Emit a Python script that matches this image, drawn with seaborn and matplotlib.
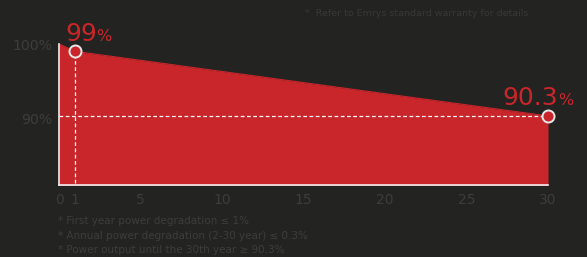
import matplotlib
matplotlib.use("Agg")
import matplotlib.pyplot as plt
import seaborn as sns
import pandas as pd

years = [0, 1, 30]
power = [100, 99, 90.3]
xticks = [0, 1, 5, 10, 15, 20, 25, 30]
yticks = [90, 100]
notes = ["* First year power degradation \u2264 1%",
         "* Annual power degradation (2-30 year) \u2264 0.3%",
         "* Power output until the 30th year \u2265 90.3%"]
top_note = "*  Refer to Emrys standard warranty for details"

BG = "#232321"
RED = "#c9262b"
GRAY = "#3d3d3b"

sns.set_style("dark")
plt.rcParams["font.family"] = ["DejaVu Sans"]

fig = plt.figure(figsize=(5.87, 2.57), dpi=100, facecolor=BG)
ax = fig.add_axes([59/587, 1-185/257, (548-59)/587, (185-44)/257])
ax.set_facecolor(BG)

df = pd.DataFrame({"year": years, "power": power})
ax.fill_between(df["year"], 70, df["power"], color=RED, lw=0, zorder=1)
sns.lineplot(data=df, x="year", y="power", ax=ax, color=RED, lw=0.8, zorder=2)

# guides
ax.plot([1, 1], [70, power[1]], ls=(0, (3, 2)), color="white", lw=0.9, zorder=3)
ax.plot([0, 30], [power[2], power[2]], ls=(0, (3, 2)), color="white", lw=0.9, zorder=3)

sns.scatterplot(x=[years[1], years[2]], y=[power[1], power[2]], ax=ax, s=75,
                color=RED, edgecolor="#e8e8e8", linewidth=1.4, zorder=5, clip_on=False)

ax.set_xlim(0, 30)
ax.set_ylim(81, 100)
ax.set_xticks(xticks)
ax.set_xticklabels([str(t) for t in xticks])
ax.set_yticks(yticks)
ax.set_yticklabels([f"{t}%" for t in yticks])
ax.tick_params(axis="both", length=0, colors=GRAY, labelsize=10, pad=6)
ax.tick_params(axis="y", labelsize=10.2, pad=5)
ax.grid(False)
ax.set_xlabel("")
ax.set_ylabel("")
for s in ["top", "right"]:
    ax.spines[s].set_visible(False)
for s in ["left", "bottom"]:
    ax.spines[s].set_visible(True)
    ax.spines[s].set_color("#f0f0f0")
    ax.spines[s].set_linewidth(1.2)
    ax.spines[s].set_zorder(4)

# value labels
fig.text(65/587, 1-41/257, "99", color=RED, fontsize=18, ha="left", va="baseline")
fig.text(96/587, 1-41/257, "%", color=RED, fontsize=11.5, ha="left", va="baseline")
fig.text(558/587, 1-105/257, "90.3", color=RED, fontsize=18, ha="right", va="baseline")
fig.text(558/587, 1-105/257, "%", color=RED, fontsize=11.5, ha="left", va="baseline")

fig.text(305/587, 1-13/257, top_note, color="#383836", fontsize=6.8, ha="left", va="center")
for i, n in enumerate(notes):
    fig.text(58/587, 1-(221.5+14.3*i)/257, n, color=GRAY, fontsize=7.5, ha="left", va="center")

fig.savefig("out.png", dpi=100, facecolor=BG)
